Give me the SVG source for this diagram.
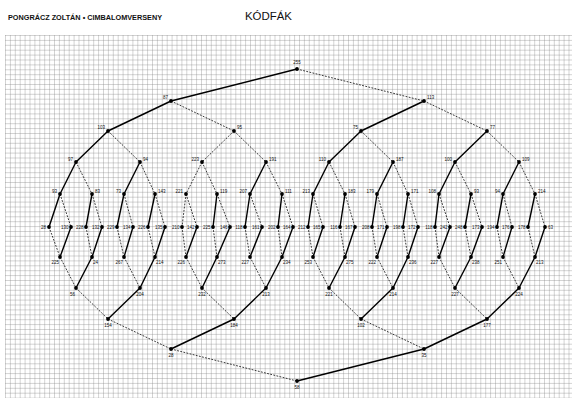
<svg xmlns="http://www.w3.org/2000/svg" width="574" height="400" viewBox="0 0 574 400">
<style>
.s{stroke:#000;stroke-width:1.4;fill:none;stroke-linecap:round}
.d{stroke:#222;stroke-width:0.9;fill:none;stroke-dasharray:1.8 1.4}
.n circle{fill:#000}
.n text{font-family:"Liberation Sans",Arial,sans-serif;font-size:4.5px;fill:#111}
.l text{text-anchor:end}
.r text{text-anchor:start}
.c text{text-anchor:middle}
</style>
<defs>
<pattern id="grid" x="5" y="35" width="4.9" height="4.9" patternUnits="userSpaceOnUse">
<path d="M0 0H4.9M0 0V4.9" stroke="#7a7a7a" stroke-width="0.65" fill="none"/>
</pattern>
<circle id="dot" r="1.9"/>
</defs>
<rect width="574" height="400" fill="#fff"/>
<rect x="5" y="35" width="567" height="363" fill="url(#grid)"/>
<text x="8" y="20" font-family="Liberation Sans,Arial,sans-serif" font-size="6.3" font-weight="bold" fill="#111" textLength="154" lengthAdjust="spacingAndGlyphs">PONGRÁCZ ZOLTÁN • CIMBALOMVERSENY</text>
<text x="245" y="20" font-family="Liberation Sans,Arial,sans-serif" font-size="11.5" fill="#111" textLength="47" lengthAdjust="spacingAndGlyphs">KÓDFÁK</text>
<g id="connectors">
<line class="s" x1="297" y1="69" x2="171" y2="101"/>
<line class="d" x1="297" y1="69" x2="424" y2="101"/>
<line class="s" x1="171" y1="101" x2="108" y2="131"/>
<line class="d" x1="171" y1="101" x2="234" y2="131"/>
<line class="s" x1="424" y1="101" x2="361" y2="131"/>
<line class="d" x1="424" y1="101" x2="487" y2="131"/>
<line class="s" x1="108" y1="131" x2="76" y2="162"/>
<line class="d" x1="108" y1="131" x2="140" y2="162"/>
<line class="d" x1="234" y1="131" x2="202" y2="162"/>
<line class="d" x1="234" y1="131" x2="266" y2="162"/>
<line class="s" x1="361" y1="131" x2="329" y2="162"/>
<line class="d" x1="361" y1="131" x2="393" y2="162"/>
<line class="s" x1="487" y1="131" x2="455" y2="162"/>
<line class="d" x1="487" y1="131" x2="519" y2="162"/>
<line class="s" x1="76" y1="162" x2="60" y2="194"/>
<line class="d" x1="76" y1="162" x2="92" y2="194"/>
<line class="s" x1="140" y1="162" x2="124" y2="194"/>
<line class="d" x1="140" y1="162" x2="155" y2="194"/>
<line class="d" x1="202" y1="162" x2="186" y2="194"/>
<line class="d" x1="202" y1="162" x2="217" y2="194"/>
<line class="s" x1="266" y1="162" x2="250" y2="194"/>
<line class="d" x1="266" y1="162" x2="282" y2="194"/>
<line class="s" x1="329" y1="162" x2="313" y2="194"/>
<line class="d" x1="329" y1="162" x2="345" y2="194"/>
<line class="s" x1="393" y1="162" x2="377" y2="194"/>
<line class="d" x1="393" y1="162" x2="408" y2="194"/>
<line class="s" x1="455" y1="162" x2="439" y2="194"/>
<line class="d" x1="455" y1="162" x2="471" y2="194"/>
<line class="s" x1="519" y1="162" x2="503" y2="194"/>
<line class="d" x1="519" y1="162" x2="535" y2="194"/>
<line class="s" x1="60" y1="194" x2="49" y2="227"/>
<line class="d" x1="60" y1="194" x2="71" y2="227"/>
<line class="s" x1="92" y1="194" x2="86" y2="227"/>
<line class="d" x1="92" y1="194" x2="102" y2="227"/>
<line class="s" x1="124" y1="194" x2="117" y2="227"/>
<line class="d" x1="124" y1="194" x2="133" y2="227"/>
<line class="s" x1="155" y1="194" x2="148" y2="227"/>
<line class="d" x1="155" y1="194" x2="165" y2="227"/>
<line class="d" x1="186" y1="194" x2="182" y2="227"/>
<line class="d" x1="186" y1="194" x2="197" y2="227"/>
<line class="s" x1="217" y1="194" x2="213" y2="227"/>
<line class="d" x1="217" y1="194" x2="230" y2="227"/>
<line class="s" x1="250" y1="194" x2="245" y2="227"/>
<line class="d" x1="250" y1="194" x2="262" y2="227"/>
<line class="s" x1="282" y1="194" x2="278" y2="227"/>
<line class="d" x1="282" y1="194" x2="293" y2="227"/>
<line class="s" x1="313" y1="194" x2="308" y2="227"/>
<line class="d" x1="313" y1="194" x2="323" y2="227"/>
<line class="s" x1="345" y1="194" x2="340" y2="227"/>
<line class="d" x1="345" y1="194" x2="355" y2="227"/>
<line class="s" x1="377" y1="194" x2="372" y2="227"/>
<line class="d" x1="377" y1="194" x2="387" y2="227"/>
<line class="s" x1="408" y1="194" x2="403" y2="227"/>
<line class="d" x1="408" y1="194" x2="418" y2="227"/>
<line class="s" x1="439" y1="194" x2="435" y2="227"/>
<line class="d" x1="439" y1="194" x2="450" y2="227"/>
<line class="s" x1="471" y1="194" x2="465" y2="227"/>
<line class="d" x1="471" y1="194" x2="482" y2="227"/>
<line class="s" x1="503" y1="194" x2="497" y2="227"/>
<line class="d" x1="503" y1="194" x2="512" y2="227"/>
<line class="s" x1="535" y1="194" x2="528" y2="227"/>
<line class="d" x1="535" y1="194" x2="545" y2="227"/>
<line class="d" x1="49" y1="227" x2="60" y2="257"/>
<line class="s" x1="71" y1="227" x2="60" y2="257"/>
<line class="d" x1="86" y1="227" x2="92" y2="257"/>
<line class="s" x1="102" y1="227" x2="92" y2="257"/>
<line class="d" x1="117" y1="227" x2="124" y2="257"/>
<line class="s" x1="133" y1="227" x2="124" y2="257"/>
<line class="d" x1="148" y1="227" x2="155" y2="257"/>
<line class="s" x1="165" y1="227" x2="155" y2="257"/>
<line class="d" x1="182" y1="227" x2="186" y2="257"/>
<line class="s" x1="197" y1="227" x2="186" y2="257"/>
<line class="d" x1="213" y1="227" x2="217" y2="257"/>
<line class="s" x1="230" y1="227" x2="217" y2="257"/>
<line class="d" x1="245" y1="227" x2="250" y2="257"/>
<line class="s" x1="262" y1="227" x2="250" y2="257"/>
<line class="d" x1="278" y1="227" x2="282" y2="257"/>
<line class="s" x1="293" y1="227" x2="282" y2="257"/>
<line class="d" x1="308" y1="227" x2="313" y2="257"/>
<line class="s" x1="323" y1="227" x2="313" y2="257"/>
<line class="d" x1="340" y1="227" x2="345" y2="257"/>
<line class="s" x1="355" y1="227" x2="345" y2="257"/>
<line class="d" x1="372" y1="227" x2="377" y2="257"/>
<line class="s" x1="387" y1="227" x2="377" y2="257"/>
<line class="d" x1="403" y1="227" x2="408" y2="257"/>
<line class="s" x1="418" y1="227" x2="408" y2="257"/>
<line class="d" x1="435" y1="227" x2="439" y2="257"/>
<line class="s" x1="450" y1="227" x2="439" y2="257"/>
<line class="d" x1="465" y1="227" x2="471" y2="257"/>
<line class="s" x1="482" y1="227" x2="471" y2="257"/>
<line class="d" x1="497" y1="227" x2="503" y2="257"/>
<line class="s" x1="512" y1="227" x2="503" y2="257"/>
<line class="d" x1="528" y1="227" x2="535" y2="257"/>
<line class="s" x1="545" y1="227" x2="535" y2="257"/>
<line class="d" x1="60" y1="257" x2="76" y2="288"/>
<line class="s" x1="92" y1="257" x2="76" y2="288"/>
<line class="d" x1="124" y1="257" x2="140" y2="288"/>
<line class="s" x1="155" y1="257" x2="140" y2="288"/>
<line class="d" x1="186" y1="257" x2="202" y2="288"/>
<line class="s" x1="217" y1="257" x2="202" y2="288"/>
<line class="d" x1="250" y1="257" x2="266" y2="288"/>
<line class="s" x1="282" y1="257" x2="266" y2="288"/>
<line class="d" x1="313" y1="257" x2="329" y2="288"/>
<line class="s" x1="345" y1="257" x2="329" y2="288"/>
<line class="d" x1="377" y1="257" x2="393" y2="288"/>
<line class="s" x1="408" y1="257" x2="393" y2="288"/>
<line class="d" x1="439" y1="257" x2="455" y2="288"/>
<line class="s" x1="471" y1="257" x2="455" y2="288"/>
<line class="d" x1="503" y1="257" x2="519" y2="288"/>
<line class="s" x1="535" y1="257" x2="519" y2="288"/>
<line class="d" x1="76" y1="288" x2="108" y2="319"/>
<line class="s" x1="140" y1="288" x2="108" y2="319"/>
<line class="d" x1="202" y1="288" x2="234" y2="319"/>
<line class="s" x1="266" y1="288" x2="234" y2="319"/>
<line class="d" x1="329" y1="288" x2="361" y2="319"/>
<line class="s" x1="393" y1="288" x2="361" y2="319"/>
<line class="d" x1="455" y1="288" x2="487" y2="319"/>
<line class="s" x1="519" y1="288" x2="487" y2="319"/>
<line class="d" x1="108" y1="319" x2="171" y2="349"/>
<line class="s" x1="234" y1="319" x2="171" y2="349"/>
<line class="d" x1="361" y1="319" x2="424" y2="349"/>
<line class="s" x1="487" y1="319" x2="424" y2="349"/>
<line class="d" x1="171" y1="349" x2="297" y2="381"/>
<line class="s" x1="424" y1="349" x2="297" y2="381"/>
</g>
<g id="t0" class="n c"><use href="#dot" x="297" y="69"/><text x="297" y="64">255</text></g>
<g id="t1a" class="n l"><use href="#dot" x="171" y="101"/><text x="168" y="99">87</text></g>
<g id="t1b" class="n r"><use href="#dot" x="424" y="101"/><text x="427" y="99">113</text></g>
<g id="t2a" class="n l"><use href="#dot" x="108" y="131"/><text x="105" y="129">103</text></g>
<g id="t2b" class="n r"><use href="#dot" x="234" y="131"/><text x="237" y="129">95</text></g>
<g id="t2c" class="n l"><use href="#dot" x="361" y="131"/><text x="358" y="129">75</text></g>
<g id="t2d" class="n r"><use href="#dot" x="487" y="131"/><text x="490" y="129">77</text></g>
<g id="t3a" class="n l"><use href="#dot" x="76" y="162"/><text x="73" y="161">97</text></g>
<g id="t3b" class="n r"><use href="#dot" x="140" y="162"/><text x="143" y="161">94</text></g>
<g id="t3c" class="n l"><use href="#dot" x="202" y="162"/><text x="199" y="161">223</text></g>
<g id="t3d" class="n r"><use href="#dot" x="266" y="162"/><text x="269" y="161">191</text></g>
<g id="t3e" class="n l"><use href="#dot" x="329" y="162"/><text x="326" y="161">110</text></g>
<g id="t3f" class="n r"><use href="#dot" x="393" y="162"/><text x="396" y="161">187</text></g>
<g id="t3g" class="n l"><use href="#dot" x="455" y="162"/><text x="452" y="161">100</text></g>
<g id="t3h" class="n r"><use href="#dot" x="519" y="162"/><text x="522" y="161">109</text></g>
<g id="t4a" class="n l"><use href="#dot" x="60" y="194"/><text x="57" y="193">93</text></g>
<g id="t4b" class="n r"><use href="#dot" x="92" y="194"/><text x="95" y="193">83</text></g>
<g id="t4c" class="n l"><use href="#dot" x="124" y="194"/><text x="121" y="193">73</text></g>
<g id="t4d" class="n r"><use href="#dot" x="155" y="194"/><text x="158" y="193">143</text></g>
<g id="t4e" class="n l"><use href="#dot" x="186" y="194"/><text x="183" y="193">221</text></g>
<g id="t4f" class="n r"><use href="#dot" x="217" y="194"/><text x="220" y="193">119</text></g>
<g id="t4g" class="n l"><use href="#dot" x="250" y="194"/><text x="247" y="193">207</text></g>
<g id="t4h" class="n r"><use href="#dot" x="282" y="194"/><text x="285" y="193">111</text></g>
<g id="t4i" class="n l"><use href="#dot" x="313" y="194"/><text x="310" y="193">213</text></g>
<g id="t4j" class="n r"><use href="#dot" x="345" y="194"/><text x="348" y="193">183</text></g>
<g id="t4k" class="n l"><use href="#dot" x="377" y="194"/><text x="374" y="193">179</text></g>
<g id="t4l" class="n r"><use href="#dot" x="408" y="194"/><text x="411" y="193">171</text></g>
<g id="t4m" class="n l"><use href="#dot" x="439" y="194"/><text x="436" y="193">108</text></g>
<g id="t4n" class="n r"><use href="#dot" x="471" y="194"/><text x="474" y="193">93</text></g>
<g id="t4o" class="n l"><use href="#dot" x="503" y="194"/><text x="500" y="193">94</text></g>
<g id="t4p" class="n r"><use href="#dot" x="535" y="194"/><text x="538" y="193">214</text></g>
<g id="m00" class="n l"><use href="#dot" x="49" y="227"/><text x="46" y="228.5">28</text></g>
<g id="m01" class="n l"><use href="#dot" x="71" y="227"/><text x="68.5" y="228.5">130</text></g>
<g id="m02" class="n l"><use href="#dot" x="86" y="227"/><text x="83.5" y="228.5">228</text></g>
<g id="m03" class="n l"><use href="#dot" x="102" y="227"/><text x="99.5" y="228.5">132</text></g>
<g id="m04" class="n l"><use href="#dot" x="117" y="227"/><text x="114.5" y="228.5">229</text></g>
<g id="m05" class="n l"><use href="#dot" x="133" y="227"/><text x="130.5" y="228.5">134</text></g>
<g id="m06" class="n l"><use href="#dot" x="148" y="227"/><text x="145.5" y="228.5">226</text></g>
<g id="m07" class="n l"><use href="#dot" x="165" y="227"/><text x="162.5" y="228.5">135</text></g>
<g id="m08" class="n l"><use href="#dot" x="182" y="227"/><text x="179.5" y="228.5">210</text></g>
<g id="m09" class="n l"><use href="#dot" x="197" y="227"/><text x="194.5" y="228.5">142</text></g>
<g id="m10" class="n l"><use href="#dot" x="213" y="227"/><text x="210.5" y="228.5">225</text></g>
<g id="m11" class="n l"><use href="#dot" x="230" y="227"/><text x="227.5" y="228.5">146</text></g>
<g id="m12" class="n l"><use href="#dot" x="245" y="227"/><text x="242.5" y="228.5">118</text></g>
<g id="m13" class="n l"><use href="#dot" x="262" y="227"/><text x="259.5" y="228.5">161</text></g>
<g id="m14" class="n l"><use href="#dot" x="278" y="227"/><text x="275.5" y="228.5">202</text></g>
<g id="m15" class="n l"><use href="#dot" x="293" y="227"/><text x="290.5" y="228.5">164</text></g>
<g id="m16" class="n l"><use href="#dot" x="308" y="227"/><text x="305.5" y="228.5">212</text></g>
<g id="m17" class="n l"><use href="#dot" x="323" y="227"/><text x="320.5" y="228.5">165</text></g>
<g id="m18" class="n l"><use href="#dot" x="340" y="227"/><text x="337.5" y="228.5">116</text></g>
<g id="m19" class="n l"><use href="#dot" x="355" y="227"/><text x="352.5" y="228.5">167</text></g>
<g id="m20" class="n l"><use href="#dot" x="372" y="227"/><text x="369.5" y="228.5">208</text></g>
<g id="m21" class="n l"><use href="#dot" x="387" y="227"/><text x="384.5" y="228.5">171</text></g>
<g id="m22" class="n l"><use href="#dot" x="403" y="227"/><text x="400.5" y="228.5">198</text></g>
<g id="m23" class="n l"><use href="#dot" x="418" y="227"/><text x="415.5" y="228.5">172</text></g>
<g id="m24" class="n l"><use href="#dot" x="435" y="227"/><text x="432.5" y="228.5">118</text></g>
<g id="m25" class="n l"><use href="#dot" x="450" y="227"/><text x="447.5" y="228.5">242</text></g>
<g id="m26" class="n l"><use href="#dot" x="465" y="227"/><text x="462.5" y="228.5">248</text></g>
<g id="m27" class="n l"><use href="#dot" x="482" y="227"/><text x="479.5" y="228.5">173</text></g>
<g id="m28" class="n l"><use href="#dot" x="497" y="227"/><text x="494.5" y="228.5">194</text></g>
<g id="m29" class="n l"><use href="#dot" x="512" y="227"/><text x="509.5" y="228.5">176</text></g>
<g id="m30" class="n l"><use href="#dot" x="528" y="227"/><text x="525.5" y="228.5">178</text></g>
<g id="m31" class="n r"><use href="#dot" x="545" y="227"/><text x="548" y="228.5">63</text></g>
<g id="b4a" class="n l"><use href="#dot" x="60" y="257"/><text x="59" y="264">225</text></g>
<g id="b4b" class="n r"><use href="#dot" x="92" y="257"/><text x="93" y="264">24</text></g>
<g id="b4c" class="n l"><use href="#dot" x="124" y="257"/><text x="123" y="264">267</text></g>
<g id="b4d" class="n r"><use href="#dot" x="155" y="257"/><text x="156" y="264">214</text></g>
<g id="b4e" class="n l"><use href="#dot" x="186" y="257"/><text x="185" y="264">226</text></g>
<g id="b4f" class="n r"><use href="#dot" x="217" y="257"/><text x="218" y="264">273</text></g>
<g id="b4g" class="n l"><use href="#dot" x="250" y="257"/><text x="249" y="264">227</text></g>
<g id="b4h" class="n r"><use href="#dot" x="282" y="257"/><text x="283" y="264">234</text></g>
<g id="b4i" class="n l"><use href="#dot" x="313" y="257"/><text x="312" y="264">253</text></g>
<g id="b4j" class="n r"><use href="#dot" x="345" y="257"/><text x="346" y="264">275</text></g>
<g id="b4k" class="n l"><use href="#dot" x="377" y="257"/><text x="376" y="264">222</text></g>
<g id="b4l" class="n r"><use href="#dot" x="408" y="257"/><text x="409" y="264">236</text></g>
<g id="b4m" class="n l"><use href="#dot" x="439" y="257"/><text x="438" y="264">227</text></g>
<g id="b4n" class="n r"><use href="#dot" x="471" y="257"/><text x="472" y="264">238</text></g>
<g id="b4o" class="n l"><use href="#dot" x="503" y="257"/><text x="502" y="264">251</text></g>
<g id="b4p" class="n r"><use href="#dot" x="535" y="257"/><text x="536" y="264">213</text></g>
<g id="b3a" class="n l"><use href="#dot" x="76" y="288"/><text x="75" y="295.5">56</text></g>
<g id="b3b" class="n c"><use href="#dot" x="140" y="288"/><text x="140" y="295.5">204</text></g>
<g id="b3c" class="n c"><use href="#dot" x="202" y="288"/><text x="202" y="295.5">232</text></g>
<g id="b3d" class="n c"><use href="#dot" x="266" y="288"/><text x="266" y="295.5">213</text></g>
<g id="b3e" class="n c"><use href="#dot" x="329" y="288"/><text x="329" y="295.5">221</text></g>
<g id="b3f" class="n c"><use href="#dot" x="393" y="288"/><text x="393" y="295.5">214</text></g>
<g id="b3g" class="n c"><use href="#dot" x="455" y="288"/><text x="455" y="295.5">227</text></g>
<g id="b3h" class="n c"><use href="#dot" x="519" y="288"/><text x="519" y="295.5">224</text></g>
<g id="b2a" class="n c"><use href="#dot" x="108" y="319"/><text x="108" y="327">154</text></g>
<g id="b2b" class="n c"><use href="#dot" x="234" y="319"/><text x="234" y="327">184</text></g>
<g id="b2c" class="n c"><use href="#dot" x="361" y="319"/><text x="361" y="327">102</text></g>
<g id="b2d" class="n c"><use href="#dot" x="487" y="319"/><text x="487" y="327">177</text></g>
<g id="b1a" class="n c"><use href="#dot" x="171" y="349"/><text x="171" y="357">28</text></g>
<g id="b1b" class="n c"><use href="#dot" x="424" y="349"/><text x="424" y="357">35</text></g>
<g id="b0" class="n c"><use href="#dot" x="297" y="381"/><text x="297" y="389">58</text></g>
</svg>
